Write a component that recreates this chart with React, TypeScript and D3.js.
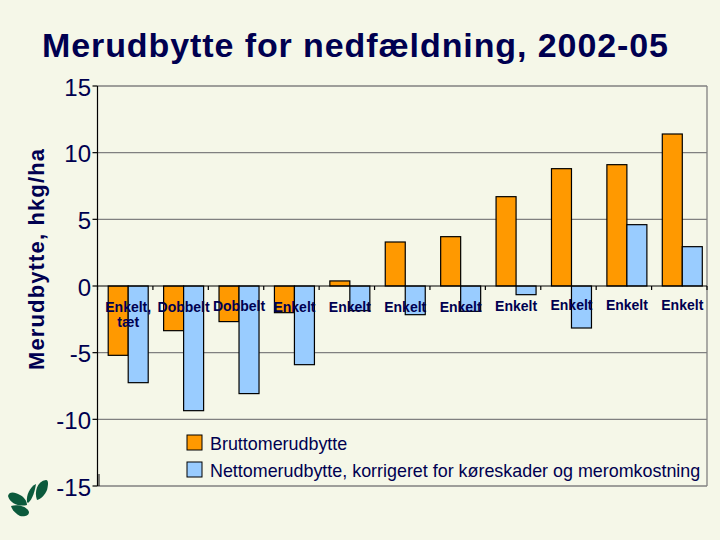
import * as d3 from 'd3';

const categories = ['Enkelt,|tæt', 'Dobbelt', 'Dobbelt', 'Enkelt', 'Enkelt', 'Enkelt', 'Enkelt', 'Enkelt', 'Enkelt', 'Enkelt', 'Enkelt'];
const brutto = [-5.2, -3.35, -2.67, -2.0, 0.38, 3.3, 3.7, 6.7, 8.8, 9.1, 11.4];
const netto = [-7.25, -9.35, -8.07, -5.9, -1.85, -2.15, -1.9, -0.65, -3.15, 4.6, 2.95];
const yTicks = [15, 10, 5, 0, -5, -10, -15];
const seriesNames = ['Bruttomerudbytte', 'Nettomerudbytte, korrigeret for køreskader og meromkostning'];

const width = 720;
const height = 540;
const bg = '#f5f7e8';
const ink = '#000050';
const seriesColors = ['#ff9900', '#99ccff'];
const font = '"Liberation Sans", Arial, sans-serif';

const plot = { left: 97.5, right: 707, top: 86, bottom: 486 };
const barShift = 3; // bars sit a little right of the band centre in the original
const labelDy = [0, 0, -1, 0, 0, 0, 0, -1, -2, -2, -2];

const x0 = d3.scaleBand<number>().domain(d3.range(categories.length)).range([plot.left, plot.right]);
const y = d3.scaleLinear().domain([-15, 15]).range([plot.bottom, plot.top]);
const barWidth = 20;

const App = () => {
    const bars = [brutto, netto].flatMap((values, s) =>
        values.map((v, i) => ({
            key: `${s}-${i}`,
            x: (x0(i) ?? 0) + x0.bandwidth() / 2 + barShift + (s - 1) * barWidth,
            y: Math.min(y(v), y(0)),
            h: Math.abs(y(v) - y(0)),
            fill: seriesColors[s],
        }))
    );
    const tickXs = d3.range(categories.length + 1).map(i => plot.left + i * x0.step());

    return (
        <svg
            width={width}
            height={height}
            style={{ position: 'absolute', left: 0, top: 0, background: bg, fontFamily: font }}
        >
            <text x={42} y={57} fontSize={34} fontWeight="bold" fill={ink} textLength={626} lengthAdjust="spacing">
                Merudbytte for nedfældning, 2002-05
            </text>
            <text
                transform="translate(44,370) rotate(-90)"
                fontSize={22}
                fontWeight="bold"
                fill={ink}
                textLength={221}
                lengthAdjust="spacing"
            >
                Merudbytte, hkg/ha
            </text>

            {/* gridlines and right edge */}
            {yTicks.filter(t => t !== 0).map(t => (
                <line key={t} x1={plot.left} x2={plot.right} y1={y(t)} y2={y(t)} stroke="#808080" strokeWidth={1.3} />
            ))}
            <line x1={plot.right} x2={plot.right} y1={plot.top} y2={plot.bottom} stroke="#808080" strokeWidth={1.3} />

            {bars.map(b => (
                <rect key={b.key} x={b.x} y={b.y} width={barWidth} height={b.h} fill={b.fill} stroke="#000" strokeWidth={1.2} />
            ))}

            {/* axes */}
            <line x1={plot.left} x2={plot.left} y1={plot.top} y2={plot.bottom} stroke="#000" strokeWidth={1.2} />
            <line x1={plot.left} x2={plot.right} y1={y(0)} y2={y(0)} stroke="#000" strokeWidth={1.2} />
            <line x1={plot.left + 1.5} x2={plot.left + 1.5} y1={plot.bottom - 12} y2={plot.bottom} stroke="#000" strokeWidth={1} />
            {yTicks.map(t => (
                <g key={t}>
                    <line x1={plot.left - 5} x2={plot.left} y1={y(t)} y2={y(t)} stroke="#000" strokeWidth={1.2} />
                    <text x={91} y={y(t) + 9.5} textAnchor="end" fontSize={24} fill={ink}>
                        {t < 0 ? `-${Math.abs(t)}` : t}
                    </text>
                </g>
            ))}
            {tickXs.map(tx => (
                <line key={tx} x1={tx} x2={tx} y1={y(0)} y2={y(0) + 4} stroke="#000" strokeWidth={1.2} />
            ))}

            {/* category labels, drawn over the bars */}
            {categories.map((c, i) => (
                <text
                    key={i}
                    x={(x0(i) ?? 0) + x0.bandwidth() / 2 + barShift}
                    y={312 + labelDy[i]}
                    textAnchor="middle"
                    fontSize={14}
                    fontWeight="bold"
                    fill={ink}
                >
                    {c.split('|').map((part, j) => (
                        <tspan key={j} x={(x0(i) ?? 0) + x0.bandwidth() / 2 + barShift} dy={j === 0 ? 0 : 15}>
                            {part}
                        </tspan>
                    ))}
                </text>
            ))}

            {/* legend */}
            {seriesNames.map((name, i) => (
                <g key={name} transform={`translate(187,${435 + i * 27})`}>
                    <rect x={0} y={0} width={15} height={15} fill={seriesColors[i]} stroke="#000" strokeWidth={1} />
                    <text x={23} y={14.5} fontSize={17.9} fill={ink}>
                        {name}
                    </text>
                </g>
            ))}

            {/* logo leaves */}
            <g fill="#0b5a3c">
                <path d="M8 496 C9 491 15 492 20 495 C24 497 27 501 27 505 C20 507 10 504 8 496 Z" />
                <path d="M11 506 C17 504 27 506 29 512 C29 516 24 517 20 516 C16 514 12 510 11 506 Z" />
                <path d="M27 502 C26 495 30 487 36 484 C35 490 33 499 28 503 Z" />
                <path d="M37 500 C34 492 37 481 46 480 C49 480 48 486 47 490 C45 495 41 499 37 500 Z" />
            </g>
        </svg>
    );
};

export default App;
